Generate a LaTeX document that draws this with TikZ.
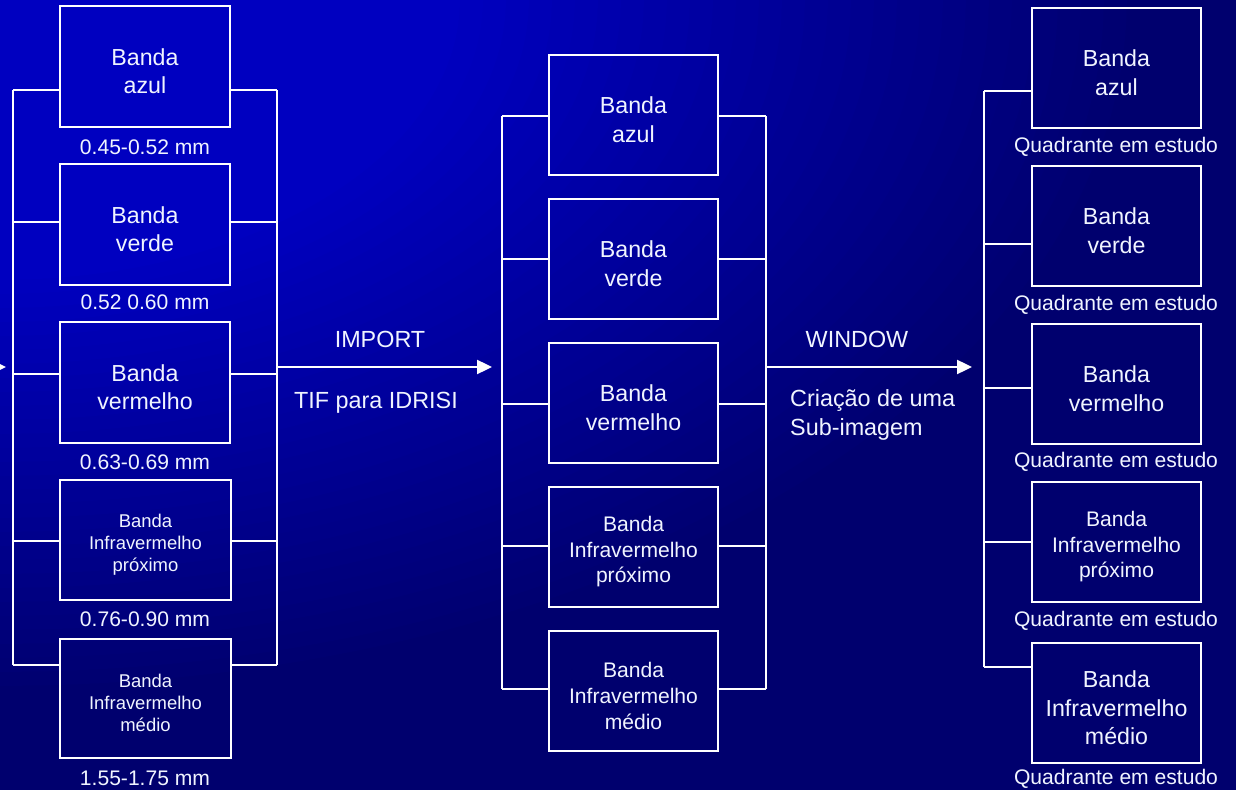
\documentclass[tikz,border=0pt]{standalone}
\usepackage{fontspec}
\setmainfont{Liberation Sans}
\usepackage{xcolor}
\usepackage{tikz}
\usetikzlibrary{arrows.meta, calc}
\definecolor{bandbright}{HTML}{0000C0}
\definecolor{banddark}{HTML}{00006E}
\definecolor{bandink}{HTML}{F0F4FF}

\begin{document}
\begin{tikzpicture}[x=0.02cm, y=-0.02cm,
    bandbox/.style={draw=white, line width=1.1pt, minimum width=3.38cm, minimum height=2.4cm, align=center, text=bandink, inner sep=0pt},
    bigtxt/.style={font=\fontsize{13.2}{16.4}\selectfont},
    midtxt/.style={font=\fontsize{12}{14.7}\selectfont},
    smalltxt/.style={font=\fontsize{10.5}{12.5}\selectfont},
    caption/.style={text=bandink, font=\fontsize{12}{14}\selectfont},
    bus/.style={white, line width=1.1pt},
    flow/.style={white, line width=1.1pt, -{Triangle[length=8.5pt,width=8pt]}}]
        \useasboundingbox (0,0) rectangle (1236,790);
        % background, glow from the upper left corner
        \begin{scope}
          \clip (0,0) rectangle (1236,790);
          \fill[banddark] (0,0) rectangle (1236,790);
          \foreach \k in {0,...,30} {
            \pgfmathsetmacro\rx{23*(1-0.6*\k/30)}
            \pgfmathsetmacro\ry{14*(1-0.6*\k/30)}
            \pgfmathsetmacro\mix{100*\k/30}
            \fill[bandbright!\mix!banddark] (0,0) ellipse [x radius=\rx cm, y radius=\ry cm];
          }
        \end{scope}
        % left column (original bands)
        \node[bandbox, bigtxt, minimum width=3.4cm, minimum height=2.42cm] (lazul) at (145,66.5) {\rule{0pt}{15pt}Banda\\azul};
        \node[bandbox, bigtxt, minimum width=3.4cm, minimum height=2.42cm] (lverde) at (145,224.5) {\rule{0pt}{15pt}Banda\\verde};
        \node[bandbox, bigtxt, minimum width=3.4cm, minimum height=2.42cm] (lverm) at (145,382.5) {\rule{0pt}{15pt}Banda\\vermelho};
        \node[bandbox, smalltxt, minimum width=3.42cm, minimum height=2.4cm] (lprox) at (145.5,540) {\rule{0pt}{13pt}Banda\\Infravermelho\\próximo};
        \node[bandbox, smalltxt, minimum width=3.42cm, minimum height=2.38cm] (lmed) at (145.5,698.5) {\rule{0pt}{13pt}Banda\\Infravermelho\\médio};
        \node[caption] (lazulnm) at (145,147) {0.45-0.52 mm};
        \node[caption] (lverdenm) at (145,302) {0.52 0.60 mm};
        \node[caption] (lvermnm) at (145,462) {0.63-0.69 mm};
        \node[caption] (lproxnm) at (145,619) {0.76-0.90 mm};
        \node[caption] (lmednm) at (145,778) {1.55-1.75 mm};
        \foreach \b/\y in {lazul/90, lverde/222, lverm/374, lprox/541, lmed/665} {
          \coordinate (lw\b) at (13,\y);
          \coordinate (le\b) at (277,\y);
          \draw[bus] (lw\b) -- (\b.west |- lw\b);
          \draw[bus] (\b.east |- le\b) -- (le\b);
        }
        \draw[bus] (lwlazul) -- (lwlmed);
        \draw[bus] (lelazul) -- (lelmed);
        % middle column (imported)
        \node[bandbox, bigtxt] (mazul) at (633.5,115) {\rule{0pt}{15pt}Banda\\azul};
        \node[bandbox, bigtxt] (mverde) at (633.5,259) {\rule{0pt}{15pt}Banda\\verde};
        \node[bandbox, bigtxt] (mverm) at (633.5,403) {\rule{0pt}{15pt}Banda\\vermelho};
        \node[bandbox, midtxt] (mprox) at (633.5,547) {\rule{0pt}{14pt}Banda\\Infravermelho\\próximo};
        \node[bandbox, midtxt] (mmed) at (633.5,691) {\rule{0pt}{14pt}Banda\\Infravermelho\\médio};
        \foreach \b/\y in {mazul/116, mverde/259, mverm/404, mprox/546, mmed/689} {
          \coordinate (mw\b) at (502,\y);
          \coordinate (me\b) at (766,\y);
          \draw[bus] (mw\b) -- (\b.west |- mw\b);
          \draw[bus] (\b.east |- me\b) -- (me\b);
        }
        \draw[bus] (mwmazul) -- (mwmmed);
        \draw[bus] (memazul) -- (memmed);
        % right column (sub-images)
        \node[bandbox, bigtxt] (razul) at (1116.5,68) {\rule{0pt}{15pt}Banda\\azul};
        \node[bandbox, bigtxt] (rverde) at (1116.5,226) {\rule{0pt}{15pt}Banda\\verde};
        \node[bandbox, bigtxt] (rverm) at (1116.5,384) {\rule{0pt}{15pt}Banda\\vermelho};
        \node[bandbox, midtxt] (rprox) at (1116.5,542) {\rule{0pt}{14pt}Banda\\Infravermelho\\próximo};
        \node[bandbox, bigtxt] (rmed) at (1116.5,703) {\rule{0pt}{15pt}Banda\\Infravermelho\\médio};
        \foreach \b/\y in {razul/147, rverde/305, rverm/462, rprox/621, rmed/779} {
          \node[caption] (\b q) at (1116,\y) {Quadrante em estudo};
        }
        \foreach \b/\y in {razul/91, rverde/244, rverm/388, rprox/542, rmed/667} {
          \coordinate (rw\b) at (984,\y);
          \draw[bus] (rw\b) -- (\b.west |- rw\b);
        }
        \draw[bus] (rwrazul) -- (rwrmed);
        % arrows
        \coordinate (feedin) at (-30,367);
        \coordinate (feedtip) at (6,367);
        \coordinate (importin) at (277,367);
        \coordinate (importtip) at (492,367);
        \coordinate (windowin) at (766,367);
        \coordinate (windowtip) at (972,367);
        \draw[flow] (feedin) -- (feedtip);
        \draw[flow] (importin) -- (importtip);
        \draw[flow] (windowin) -- (windowtip);
        \node[caption, font=\fontsize{13.3}{16.4}\selectfont] (import) at (380,339) {IMPORT};
        \node[caption, font=\fontsize{13.3}{16.4}\selectfont] (tif) at (376,403) {TIF para IDRISI};
        \node[caption, font=\fontsize{13.3}{16.4}\selectfont] (window) at (857,339) {WINDOW};
        \node[caption, font=\fontsize{13.3}{16.4}\selectfont, align=left, anchor=west] (subimg) at (784,415) {Criação de uma\\Sub-imagem};
      \end{tikzpicture}
\end{document}
